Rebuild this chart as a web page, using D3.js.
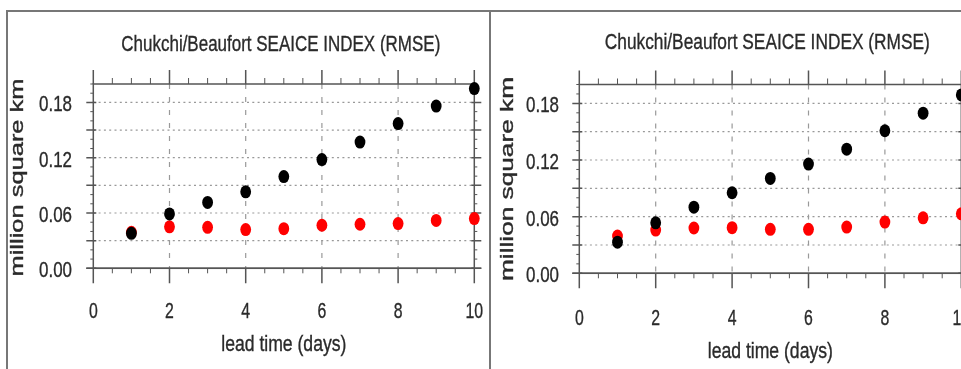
<!DOCTYPE html>
<html>
<head>
<meta charset="utf-8">
<script src="https://cdn.jsdelivr.net/npm/d3@7"></script>
<style>
  html, body { margin: 0; padding: 0; background: #fff; }
  svg { display: block; }
  text { font-family: "Liberation Sans", Arial, Helvetica, sans-serif; fill: #2a2a2a; stroke: #2a2a2a; stroke-width: 0.35; }
</style>
</head>
<body>
<svg id="chart" width="961" height="369"></svg>
<script>
// Chart data
const leadDays = [1, 2, 3, 4, 5, 6, 7, 8, 9, 10];
const xTicks = [0, 2, 4, 6, 8, 10];
const yTicks = [0, 0.06, 0.12, 0.18];
const titleText = 'Chukchi/Beaufort SEAICE INDEX (RMSE)';
const xLabel = 'lead time (days)';
const yLabel = 'million square km';

const leftBlack = [0.038, 0.059, 0.0715, 0.083, 0.0995, 0.118, 0.137, 0.157, 0.176, 0.195];
const leftRed = [0.039, 0.045, 0.0445, 0.042, 0.043, 0.0467, 0.0478, 0.0485, 0.052, 0.054];
const rightBlack = [0.033, 0.0535, 0.07, 0.0853, 0.1005, 0.1157, 0.1315, 0.151, 0.1696, 0.189];
const rightRed = [0.0395, 0.0458, 0.048, 0.0483, 0.0466, 0.0466, 0.049, 0.0543, 0.0588, 0.063];

// Panel layout
const panels = [
  { x0: 93.3, x1: 474.3, top: 84, bottom: 268.3, titleY: 51, titleLen: 319,
    xLabY: 318, xTitleY: 351, yLabX: 72, yTitleX: 23, yTitleY: 177.5, yTitleLen: 198,
    black: leftBlack, red: leftRed },
  { x0: 579.3, x1: 961.3, top: 84.5, bottom: 273.3, titleY: 49, titleLen: 325,
    xLabY: 325, xTitleY: 358, yLabX: 559, yTitleX: 513, yTitleY: 179, yTitleLen: 204,
    black: rightBlack, red: rightRed }
];

const svg = d3.select('#chart');

// slight blur to match the soft look of the original
svg.append('defs').append('filter')
  .attr('id', 'soft')
  .append('feGaussianBlur')
  .attr('stdDeviation', 0.5);

const root = svg.append('g').attr('filter', 'url(#soft)');

root.append('rect').attr('width', 961).attr('height', 369).attr('fill', '#fff');

// Panel borders
root.append('path')
  .attr('d', 'M7,369 V11 H961 M490,11 V369')
  .attr('fill', 'none')
  .attr('stroke', '#777')
  .attr('stroke-width', 2);

function drawPanel(p) {
  const x = d3.scaleLinear().domain([0, 10]).range([p.x0, p.x1]);
  const y = d3.scaleLinear().domain([0, 0.2]).range([p.bottom, p.top]);
  const g = root.append('g');

  // Grid
  g.append('g').selectAll('line')
    .data(d3.range(1, 7).map(i => i * 0.03))
    .join('line')
    .attr('x1', p.x0).attr('x2', p.x1)
    .attr('y1', d => y(d)).attr('y2', d => y(d))
    .attr('stroke', '#999')
    .attr('stroke-width', 1.2)
    .attr('stroke-dasharray', '2,3.3');

  g.append('g').selectAll('line')
    .data(xTicks.slice(1, -1))
    .join('line')
    .attr('x1', d => x(d)).attr('x2', d => x(d))
    .attr('y1', p.top).attr('y2', p.bottom)
    .attr('stroke', '#999')
    .attr('stroke-width', 1.2)
    .attr('stroke-dasharray', '5,8');

  // Frame
  g.append('rect')
    .attr('x', p.x0).attr('y', p.top)
    .attr('width', p.x1 - p.x0).attr('height', p.bottom - p.top)
    .attr('fill', 'none')
    .attr('stroke', '#555')
    .attr('stroke-width', 1.5);

  // X ticks (top and bottom)
  const xMinor = d3.range(0, 10.01, 0.5);
  g.append('g').selectAll('path')
    .data(xMinor)
    .join('path')
    .attr('d', d => {
      const major = xTicks.includes(d);
      const px = x(d);
      return major
        ? `M${px},${p.top - 14}V${p.top} M${px},${p.bottom}V${p.bottom + 15}`
        : `M${px},${p.top - 6}V${p.top} M${px},${p.bottom}V${p.bottom + 5}`;
    })
    .attr('stroke', '#555')
    .attr('stroke-width', d => xTicks.includes(d) ? 1.5 : 1);

  // Y ticks (left and right)
  const yMinor = d3.range(0, 21).map(i => i * 0.01);
  g.append('g').selectAll('path')
    .data(yMinor)
    .join('path')
    .attr('d', (d, i) => {
      const py = y(d);
      return i % 3 === 0
        ? `M${p.x0 - 7},${py}H${p.x0 + 3} M${p.x1 - 3},${py}H${p.x1 + 7}`
        : `M${p.x0 - 3},${py}H${p.x0} M${p.x1},${py}H${p.x1 + 3}`;
    })
    .attr('stroke', '#555')
    .attr('stroke-width', (d, i) => i % 3 === 0 ? 1.5 : 1);

  // Bottom line extends past the left axis
  g.append('line')
    .attr('x1', p.x0 - 7).attr('x2', p.x1 + 7)
    .attr('y1', p.bottom).attr('y2', p.bottom)
    .attr('stroke', '#555').attr('stroke-width', 1.5);

  // Tick labels
  g.append('g').selectAll('text')
    .data(xTicks)
    .join('text')
    .attr('transform', d => `translate(${x(d)},${p.xLabY}) scale(0.72,1)`)
    .attr('text-anchor', 'middle')
    .attr('font-size', 22)
    .text(d => d);

  g.append('g').selectAll('text')
    .data(yTicks)
    .join('text')
    .attr('transform', d => `translate(${p.yLabX},${y(d) + 9}) scale(0.77,1)`)
    .attr('text-anchor', 'end')
    .attr('font-size', 22)
    .text(d => d3.format('.2f')(d));

  // Titles
  g.append('text')
    .attr('x', (p.x0 + p.x1) / 2 - 3).attr('y', p.titleY)
    .attr('text-anchor', 'middle')
    .attr('font-size', 22)
    .attr('textLength', p.titleLen)
    .attr('lengthAdjust', 'spacingAndGlyphs')
    .text(titleText);

  g.append('text')
    .attr('transform', `translate(${(p.x0 + p.x1) / 2},${p.xTitleY}) scale(0.8,1)`)
    .attr('text-anchor', 'middle')
    .attr('font-size', 22)
    .text(xLabel);

  g.append('text')
    .attr('transform', `translate(${p.yTitleX},${p.yTitleY}) rotate(-90)`)
    .attr('text-anchor', 'middle')
    .attr('font-size', 18)
    .attr('textLength', p.yTitleLen)
    .attr('lengthAdjust', 'spacingAndGlyphs')
    .text(yLabel);

  // Markers: red first, black on top
  [[p.red, '#f00'], [p.black, '#000']].forEach(([vals, color]) => {
    g.append('g').selectAll('ellipse')
      .data(vals)
      .join('ellipse')
      .attr('cx', (d, i) => x(leadDays[i]))
      .attr('cy', d => y(d))
      .attr('rx', 5.4)
      .attr('ry', 6.5)
      .attr('fill', color);
  });
}

panels.forEach(drawPanel);
</script>
</body>
</html>
